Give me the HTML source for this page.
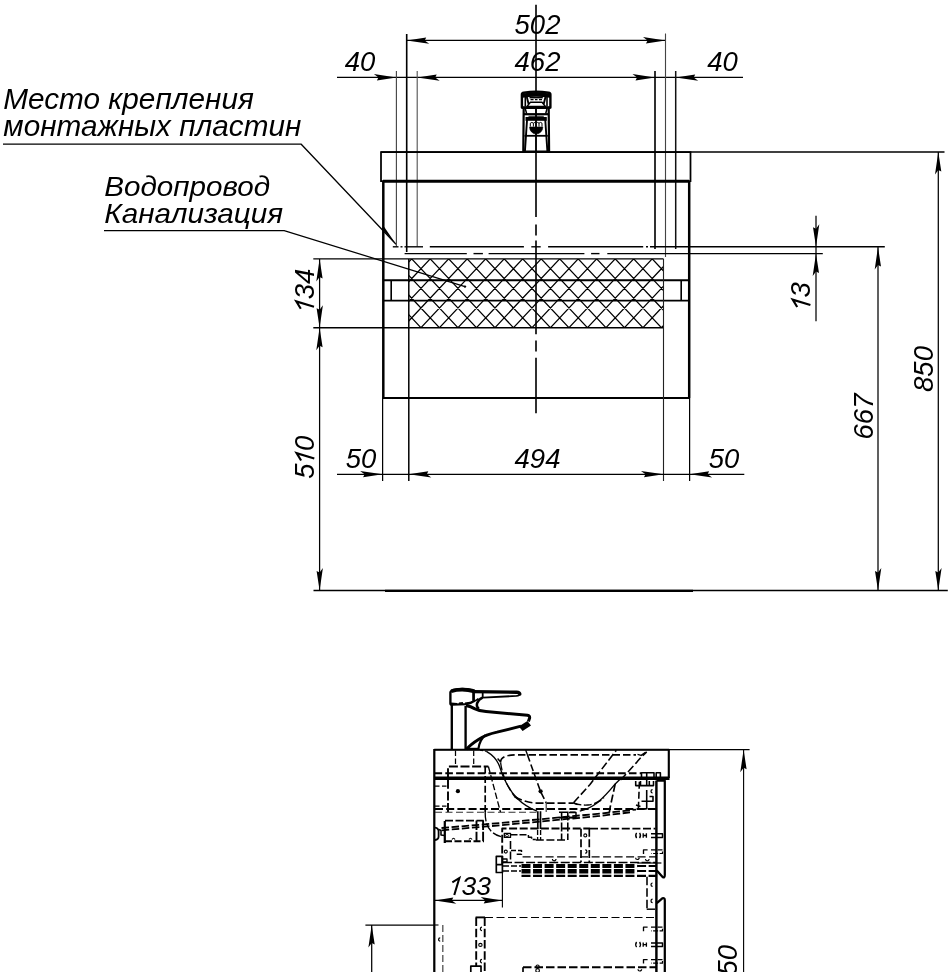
<!DOCTYPE html>
<html><head><meta charset="utf-8"><title>drawing</title>
<style>
html,body{margin:0;padding:0;background:#fff;}
body{width:952px;height:972px;overflow:hidden;font-family:"Liberation Sans",sans-serif;}
svg{display:block;will-change:transform;transform:translateZ(0);font-family:"Liberation Sans",sans-serif;font-style:italic;fill:#000;}
</style></head><body>
<svg width="952" height="972" viewBox="0 0 952 972">
<text x="3.3" y="109.3" font-size="29.5" text-anchor="start" textLength="250.5" lengthAdjust="spacingAndGlyphs" >Место крепления</text>
<text x="3.3" y="136.2" font-size="29.5" text-anchor="start" textLength="298" lengthAdjust="spacingAndGlyphs" >монтажных пластин</text>
<text x="104.2" y="195.5" font-size="27.5" text-anchor="start" textLength="166" lengthAdjust="spacingAndGlyphs" >Водопровод</text>
<text x="104.2" y="223.3" font-size="27.5" text-anchor="start" textLength="179" lengthAdjust="spacingAndGlyphs" >Канализация</text>
<path d="M3,144.2 L301.2,144.2 L396,244.3" stroke="#000" stroke-width="1.25" fill="none" />
<polygon points="396.3,244.6 382.2,229.0 383.9,226.6" fill="#000"/>
<path d="M104,230.6 L284.2,230.6 L465,286.6" stroke="#000" stroke-width="1.25" fill="none" />
<circle cx="465" cy="286.6" r="1.2" fill="#000"/>
<line x1="536" y1="4.8" x2="536" y2="217" stroke="#000" stroke-width="1.625" />
<line x1="536" y1="224.4" x2="536" y2="235.5" stroke="#000" stroke-width="1.625" />
<line x1="536" y1="240.5" x2="536" y2="334.3" stroke="#000" stroke-width="1.625" />
<line x1="536" y1="340.5" x2="536" y2="351.6" stroke="#000" stroke-width="1.625" />
<line x1="536" y1="357.8" x2="536" y2="413.3" stroke="#000" stroke-width="1.625" />
<line x1="406.7" y1="40.4" x2="665.5" y2="40.4" stroke="#000" stroke-width="1.25" />
<polygon points="406.70,40.40 426.20,37.40 424.70,40.40 429.20,43.70" fill="#000"/>
<polygon points="665.50,40.40 646.00,43.40 647.50,40.40 643.00,37.10" fill="#000"/>
<text x="537.5" y="33.8" font-size="27.5" text-anchor="middle" >502</text>
<line x1="337" y1="77.4" x2="743" y2="77.4" stroke="#000" stroke-width="1.25" />
<polygon points="396.40,77.40 376.90,80.40 378.40,77.40 373.90,74.10" fill="#000"/>
<polygon points="417.20,77.40 436.70,74.40 435.20,77.40 439.70,80.70" fill="#000"/>
<polygon points="655.00,77.40 635.50,80.40 637.00,77.40 632.50,74.10" fill="#000"/>
<polygon points="675.70,77.40 695.20,74.40 693.70,77.40 698.20,80.70" fill="#000"/>
<text x="537.5" y="71" font-size="27.5" text-anchor="middle" >462</text>
<text x="360" y="71" font-size="27.5" text-anchor="middle" >40</text>
<text x="722.5" y="71" font-size="27.5" text-anchor="middle" >40</text>
<line x1="406.7" y1="34" x2="406.7" y2="252" stroke="#000" stroke-width="1.625" />
<line x1="396.4" y1="71" x2="396.4" y2="246.5" stroke="#444" stroke-width="1.125" />
<line x1="417.2" y1="71" x2="417.2" y2="246.5" stroke="#555" stroke-width="1.125" />
<line x1="655" y1="71" x2="655" y2="249" stroke="#000" stroke-width="1.625" />
<line x1="665.5" y1="33.5" x2="665.5" y2="257" stroke="#444" stroke-width="1.125" />
<line x1="675.7" y1="71" x2="675.7" y2="249" stroke="#111" stroke-width="1.5" />
<path d="M381,152 L690.5,152 L690.5,181 L381,181 Z" stroke="#000" stroke-width="1.75" fill="none" />
<line x1="381" y1="152" x2="944.5" y2="152" stroke="#000" stroke-width="1.375" />
<line x1="383" y1="181.3" x2="689" y2="181.3" stroke="#000" stroke-width="3.0" />
<line x1="383.3" y1="181" x2="383.3" y2="398" stroke="#000" stroke-width="2.5" />
<line x1="689.2" y1="181" x2="689.2" y2="398" stroke="#000" stroke-width="2.5" />
<line x1="382.4" y1="398" x2="690" y2="398" stroke="#000" stroke-width="2.0" />
<line x1="383" y1="280.2" x2="689" y2="280.2" stroke="#000" stroke-width="1.875" />
<line x1="383" y1="300.6" x2="689" y2="300.6" stroke="#000" stroke-width="1.875" />
<line x1="391.2" y1="280" x2="391.2" y2="300.6" stroke="#000" stroke-width="1.625" />
<line x1="681.2" y1="280" x2="681.2" y2="300.6" stroke="#000" stroke-width="1.625" />
<line x1="392.8" y1="246.8" x2="398.5" y2="246.8" stroke="#000" stroke-width="1.375" />
<line x1="400.5" y1="246.8" x2="402.5" y2="246.8" stroke="#000" stroke-width="1.375" />
<line x1="404.5" y1="246.8" x2="423" y2="246.8" stroke="#000" stroke-width="1.375" />
<line x1="429.8" y1="246.8" x2="523.9" y2="246.8" stroke="#000" stroke-width="1.375" />
<line x1="531.3" y1="246.8" x2="540.7" y2="246.8" stroke="#000" stroke-width="1.375" />
<line x1="548.1" y1="246.8" x2="643.2" y2="246.8" stroke="#000" stroke-width="1.375" />
<line x1="646" y1="246.8" x2="648" y2="246.8" stroke="#000" stroke-width="1.375" />
<line x1="650" y1="246.8" x2="884.8" y2="246.8" stroke="#000" stroke-width="1.375" />
<line x1="404.6" y1="253.6" x2="466.8" y2="253.6" stroke="#000" stroke-width="1.375" />
<line x1="473.5" y1="253.6" x2="482.9" y2="253.6" stroke="#000" stroke-width="1.375" />
<line x1="488.6" y1="253.6" x2="584.4" y2="253.6" stroke="#000" stroke-width="1.375" />
<line x1="591.1" y1="253.6" x2="599.5" y2="253.6" stroke="#000" stroke-width="1.375" />
<line x1="607.3" y1="253.6" x2="822.8" y2="253.6" stroke="#000" stroke-width="1.375" />
<clipPath id="hc"><rect x="408.8" y="258.9" width="254.7" height="68.70000000000005"/></clipPath>
<g clip-path="url(#hc)" stroke="#000" stroke-width="1.3" fill="none">
<path d="M263.70,258.9 L328.40,327.6 M263.70,258.9 L199.00,327.6 M282.20,258.9 L346.90,327.6 M282.20,258.9 L217.50,327.6 M300.70,258.9 L365.40,327.6 M300.70,258.9 L236.00,327.6 M319.20,258.9 L383.90,327.6 M319.20,258.9 L254.50,327.6 M337.70,258.9 L402.40,327.6 M337.70,258.9 L273.00,327.6 M356.20,258.9 L420.90,327.6 M356.20,258.9 L291.50,327.6 M374.70,258.9 L439.40,327.6 M374.70,258.9 L310.00,327.6 M393.20,258.9 L457.90,327.6 M393.20,258.9 L328.50,327.6 M411.70,258.9 L476.40,327.6 M411.70,258.9 L347.00,327.6 M430.20,258.9 L494.90,327.6 M430.20,258.9 L365.50,327.6 M448.70,258.9 L513.40,327.6 M448.70,258.9 L384.00,327.6 M467.20,258.9 L531.90,327.6 M467.20,258.9 L402.50,327.6 M485.70,258.9 L550.40,327.6 M485.70,258.9 L421.00,327.6 M504.20,258.9 L568.90,327.6 M504.20,258.9 L439.50,327.6 M522.70,258.9 L587.40,327.6 M522.70,258.9 L458.00,327.6 M541.20,258.9 L605.90,327.6 M541.20,258.9 L476.50,327.6 M559.70,258.9 L624.40,327.6 M559.70,258.9 L495.00,327.6 M578.20,258.9 L642.90,327.6 M578.20,258.9 L513.50,327.6 M596.70,258.9 L661.40,327.6 M596.70,258.9 L532.00,327.6 M615.20,258.9 L679.90,327.6 M615.20,258.9 L550.50,327.6 M633.70,258.9 L698.40,327.6 M633.70,258.9 L569.00,327.6 M652.20,258.9 L716.90,327.6 M652.20,258.9 L587.50,327.6 M670.70,258.9 L735.40,327.6 M670.70,258.9 L606.00,327.6 M689.20,258.9 L753.90,327.6 M689.20,258.9 L624.50,327.6 M707.70,258.9 L772.40,327.6 M707.70,258.9 L643.00,327.6 M726.20,258.9 L790.90,327.6 M726.20,258.9 L661.50,327.6"/>
</g>
<line x1="313.3" y1="258.9" x2="663.5" y2="258.9" stroke="#000" stroke-width="1.375" />
<line x1="313.3" y1="327.7" x2="663.5" y2="327.7" stroke="#000" stroke-width="1.375" />
<line x1="408.8" y1="258.9" x2="408.8" y2="481" stroke="#000" stroke-width="1.5" />
<line x1="663.5" y1="258.9" x2="663.5" y2="481" stroke="#222" stroke-width="1.125" />
<line x1="382.6" y1="398" x2="382.6" y2="481" stroke="#000" stroke-width="1.25" />
<line x1="689.6" y1="398" x2="689.6" y2="481" stroke="#000" stroke-width="1.25" />
<line x1="337" y1="474.3" x2="744.3" y2="474.3" stroke="#000" stroke-width="1.25" />
<polygon points="382.60,474.30 363.10,477.30 364.60,474.30 360.10,471.00" fill="#000"/>
<polygon points="408.80,474.30 428.30,471.30 426.80,474.30 431.30,477.60" fill="#000"/>
<polygon points="663.50,474.30 644.00,477.30 645.50,474.30 641.00,471.00" fill="#000"/>
<polygon points="689.60,474.30 709.10,471.30 707.60,474.30 712.10,477.60" fill="#000"/>
<text x="361" y="467.7" font-size="27.5" text-anchor="middle" >50</text>
<text x="537.5" y="467.7" font-size="27.5" text-anchor="middle" >494</text>
<text x="724" y="467.7" font-size="27.5" text-anchor="middle" >50</text>
<line x1="319.6" y1="258.9" x2="319.6" y2="590.5" stroke="#000" stroke-width="1.25" />
<polygon points="319.60,258.90 322.60,278.40 319.60,276.90 316.30,281.40" fill="#000"/>
<polygon points="319.60,327.70 316.60,308.20 319.60,309.70 322.90,305.20" fill="#000"/>
<polygon points="319.60,327.70 322.60,347.20 319.60,345.70 316.30,350.20" fill="#000"/>
<polygon points="319.60,590.50 316.60,571.00 319.60,572.50 322.90,568.00" fill="#000"/>
<g transform="translate(314.0 311.8) rotate(-90)"><path d="M5.05,0 L10.35,-17.70 L3.05,-13.20" stroke="#000" stroke-width="2.15" fill="none" stroke-linejoin="miter" stroke-miterlimit="6"/><text x="12.60" y="0" font-size="27.5" text-anchor="start">3</text><text x="27.89" y="0" font-size="27.5" text-anchor="start">4</text></g>
<g transform="translate(314.3 457.2) rotate(-90)"><text x="-21.59" y="0" font-size="27.5" text-anchor="start">5</text><path d="M-1.25,0 L4.05,-17.70 L-3.25,-13.20" stroke="#000" stroke-width="2.15" fill="none" stroke-linejoin="miter" stroke-miterlimit="6"/><text x="6.30" y="0" font-size="27.5" text-anchor="start">0</text></g>
<line x1="313.5" y1="590.5" x2="947.8" y2="590.5" stroke="#000" stroke-width="1.375" />
<line x1="385" y1="590.8" x2="693" y2="590.8" stroke="#000" stroke-width="2.25" />
<line x1="938.3" y1="152" x2="938.3" y2="590.5" stroke="#000" stroke-width="1.25" />
<polygon points="938.30,152.00 941.30,171.50 938.30,170.00 935.00,174.50" fill="#000"/>
<polygon points="938.30,590.50 935.30,571.00 938.30,572.50 941.60,568.00" fill="#000"/>
<text x="933" y="369" font-size="27.5" text-anchor="middle" transform="rotate(-90 933 369)" >850</text>
<line x1="878" y1="247" x2="878" y2="590.5" stroke="#000" stroke-width="1.25" />
<polygon points="878.00,247.00 881.00,266.50 878.00,265.00 874.70,269.50" fill="#000"/>
<polygon points="878.00,590.50 875.00,571.00 878.00,572.50 881.30,568.00" fill="#000"/>
<text x="872.8" y="416.5" font-size="27.5" text-anchor="middle" transform="rotate(-90 872.8 416.5)" >667</text>
<line x1="816" y1="215.8" x2="816" y2="321.3" stroke="#000" stroke-width="1.25" />
<polygon points="816.00,246.80 813.00,227.30 816.00,228.80 819.30,224.30" fill="#000"/>
<polygon points="816.00,253.60 819.00,273.10 816.00,271.60 812.70,276.10" fill="#000"/>
<g transform="translate(810.4 310) rotate(-90)"><path d="M5.05,0 L10.35,-17.70 L3.05,-13.20" stroke="#000" stroke-width="2.15" fill="none" stroke-linejoin="miter" stroke-miterlimit="6"/><text x="12.60" y="0" font-size="27.5" text-anchor="start">3</text></g>
<g stroke="#000" fill="none" stroke-linejoin="round">
<path d="M521.9,107.6 L521.9,94.4 Q521.9,93 523.8,92.7 Q536.1,90.6 548.5,92.7 Q550.4,93 550.4,94.4 L550.4,107.6 Z" fill="#fff" stroke-width="2.4"/>
<path d="M522.5,94.6 Q536.1,91.2 549.8,94.6 L549.8,96.8 Q536.1,94.8 522.5,96.8 Z" fill="#000" stroke-width="1.8"/>
<path d="M525.3,96.5 L525.3,106.5 M547,96.5 L547,106.5" stroke-width="1.6"/>
<path d="M526.8,97 L528.6,104 M545.5,97 L543.7,104" stroke-width="1.9"/>
<path d="M529.5,97.6 L542.8,97.6" stroke-width="1.6"/>
<path d="M530.5,99.6 L533.5,99.6 M535,99.6 L537.5,99.6 M539,99.6 L542,99.6" stroke-width="1.2"/>
<path d="M530.4,102.2 L542,102.2 L545.4,106.4 L527,106.4 Z" stroke-width="1.5"/>
<path d="M521.9,107.7 L550.4,107.7" stroke-width="2.6"/>
<path d="M523.7,108 L523.3,152 M548.7,108 L549.1,152" stroke-width="2.2"/>
<path d="M523.5,114.2 L549,114.2" stroke-width="2.2"/>
<path d="M525.2,108.5 L526.6,113.5 M547.1,108.5 L545.7,113.5" stroke-width="1.5"/>
<path d="M528.5,116.3 L543.8,116.3" stroke-width="0.9"/>
<path d="M525.5,118.9 L546.8,118.9" stroke-width="3.8"/>
<path d="M527.2,117.5 L524.9,151.5 M545.1,117.5 L547.4,151.5" stroke-width="1.9"/>
<path d="M524.5,135.8 L547.8,135.8" stroke-width="1.8"/>
<path d="M530.3,126.6 L530.3,123.2 Q531.9,121.6 533.4,123.2 L533.4,126.6 M533.4,123.2 Q535,121.6 536.2,123.2 Q537.6,121.6 539,123.2 L539,126.6 M539,123.2 Q540.6,121.6 542,123.2 L542,126.6" stroke-width="1.0"/>
<path d="M529.6,127 A6.6,7 0 0 0 542.8,127 Z" fill="#000" stroke-width="0.6"/>
<path d="M523,151.3 L549.4,151.3" stroke-width="1.6"/>
</g>
<line x1="536" y1="108" x2="536" y2="152" stroke="#000" stroke-width="1.375" />
<path d="M451.8,704.5 L451.8,749.8 M465.6,706 L465.6,749.8" stroke="#000" stroke-width="2.35" fill="none" stroke-linecap="butt" stroke-linejoin="round"/>
<path d="M450.4,703.5 L450.4,692.6 Q450.4,690.8 453,690 Q463,687.8 472,690 Q474,690.6 475.5,691.6 L473.6,692.8 L473.6,701.2 Q470,703.6 466.5,704.2 L452,704.6 Q450.4,704.6 450.4,703.5 Z" stroke="#000" stroke-width="2.35" fill="none" stroke-linecap="butt" stroke-linejoin="round"/>
<path d="M451.2,691.2 Q462,688 474.5,691.4" stroke="#000" stroke-width="3.58" fill="none" stroke-linecap="butt" stroke-linejoin="round"/>
<path d="M451,703.6 L457,703.9 M459,703.6 L463,703.0 M465,703.4 L470,702.8" stroke="#000" stroke-width="2.02" fill="none" stroke-linecap="butt" stroke-linejoin="round"/>
<path d="M473.6,691.6 L516.5,692.2 Q519.6,692.5 519.8,694" stroke="#000" stroke-width="3.36" fill="none" stroke-linecap="round" stroke-linejoin="round"/>
<path d="M519.8,694 Q519.6,695.6 516.5,695.9 L482.8,697.6" stroke="#000" stroke-width="1.9" fill="none" stroke-linecap="round" stroke-linejoin="round"/>
<path d="M482.7,693 L482.7,697.4" stroke="#000" stroke-width="1.79" fill="none" stroke-linecap="butt" stroke-linejoin="round"/>
<path d="M473.6,692 L473.6,701" stroke="#000" stroke-width="2.24" fill="none" stroke-linecap="butt" stroke-linejoin="round"/>
<path d="M482.6,697.6 Q478.5,699.2 477,703.5 Q476.2,706.5 478.8,708.8" stroke="#000" stroke-width="2.46" fill="none" stroke-linecap="butt" stroke-linejoin="round"/>
<path d="M473.8,701.5 Q476.5,700.2 478.5,698.6" stroke="#000" stroke-width="1.79" fill="none" stroke-linecap="butt" stroke-linejoin="round"/>
<path d="M466,705.5 Q471,706.5 474.5,708.6 Q479,711 486,711.6 L527.5,715.2 Q530,715.6 529.6,718 L528.4,721.6" stroke="#000" stroke-width="3.02" fill="none" stroke-linecap="butt" stroke-linejoin="round"/>
<polygon points="518.8,726.4 527.4,721.0 531,725.4 522.6,731" fill="#000"/>
<path d="M521,726.2 L497,732.2 Q486,734.6 478.5,739.5 Q470.5,744.5 466.5,749.3" stroke="#000" stroke-width="2.91" fill="none" stroke-linecap="butt" stroke-linejoin="round"/>
<path d="M485.5,735.2 Q479.6,739.5 478.3,749.3" stroke="#000" stroke-width="2.24" fill="none" stroke-linecap="butt" stroke-linejoin="round"/>
<path d="M466,748.8 L478.6,748.8" stroke="#000" stroke-width="2.02" fill="none" stroke-linecap="butt" stroke-linejoin="round"/>
<path d="M434.2,749.8 L668.8,749.8 L668.8,778" stroke="#000" stroke-width="2.13" fill="none" stroke-linecap="butt" stroke-linejoin="round"/>
<line x1="434" y1="749.7" x2="749.6" y2="749.7" stroke="#000" stroke-width="1.25" />
<path d="M434.3,749 L434.3,972" stroke="#000" stroke-width="2.24" fill="none" stroke-linecap="butt" stroke-linejoin="round"/>
<path d="M434,778.2 L669.5,778.2" stroke="#000" stroke-width="3.36" fill="none" stroke-linecap="butt" stroke-linejoin="round"/>
<path d="M656.4,780.6 L656.4,972" stroke="#000" stroke-width="2.46" fill="none" stroke-linecap="butt" stroke-linejoin="round"/>
<path d="M656.4,780.7 L664.8,780.7 L664.8,875 Q664.8,878.3 662.6,877 L656.8,870.4" stroke="#000" stroke-width="2.24" fill="none" stroke-linecap="butt" stroke-linejoin="round"/>
<path d="M656.8,903.2 L662.3,898.4 Q664.8,897.6 664.8,900.2 L664.8,972" stroke="#000" stroke-width="2.24" fill="none" stroke-linecap="butt" stroke-linejoin="round"/>
<line x1="743.6" y1="749.7" x2="743.6" y2="972" stroke="#000" stroke-width="1.125" />
<polygon points="743.60,749.70 746.60,769.20 743.60,767.70 740.30,772.20" fill="#000"/>
<text x="737.1" y="967.8" font-size="27.5" text-anchor="middle" transform="rotate(-90 737.1 967.8)" >850</text>
<line x1="434.3" y1="900.4" x2="502.4" y2="900.4" stroke="#000" stroke-width="1.25" />
<polygon points="434.80,900.40 453.30,897.40 451.80,900.40 456.30,903.70" fill="#000"/>
<polygon points="502.20,900.40 483.70,903.40 485.20,900.40 480.70,897.10" fill="#000"/>
<line x1="502.4" y1="873" x2="502.4" y2="907.5" stroke="#000" stroke-width="1.125" />
<g transform="translate(449.4 895)"><path d="M4.87,0 L9.97,-17.06 L2.94,-12.72" stroke="#000" stroke-width="2.07" fill="none" stroke-linejoin="miter" stroke-miterlimit="6"/><text x="12.14" y="0" font-size="26.5" text-anchor="start">3</text><text x="26.88" y="0" font-size="26.5" text-anchor="start">3</text></g>
<line x1="365.4" y1="925" x2="434" y2="925" stroke="#000" stroke-width="1.25" />
<line x1="371.7" y1="925" x2="371.7" y2="972" stroke="#000" stroke-width="1.25" />
<polygon points="371.70,925.00 374.70,944.50 371.70,943.00 368.40,947.50" fill="#000"/>
<path d="M455.5,750.5 L455.5,766.5 M473.7,750.5 L473.7,766.5" stroke="#000" stroke-width="1.23" fill="none" stroke-linecap="butt" stroke-linejoin="round" stroke-dasharray="5.5,2.5"/>
<path d="M448,812 L448,766.5 L488.4,766.5" stroke="#000" stroke-width="1.9" fill="none" stroke-linecap="butt" stroke-linejoin="round" stroke-dasharray="9,2.6"/>
<path d="M485.2,766.5 L485.2,812" stroke="#000" stroke-width="1.68" fill="none" stroke-linecap="butt" stroke-linejoin="round" stroke-dasharray="7,2.6"/>
<path d="M485.2,812 Q485,826 492,832 Q496,835.5 501,836.6" stroke="#000" stroke-width="1.34" fill="none" stroke-linecap="butt" stroke-linejoin="round" stroke-dasharray="9,2.5"/>
<path d="M434.5,773.2 L641,773.2" stroke="#000" stroke-width="1.9" fill="none" stroke-linecap="butt" stroke-linejoin="round" stroke-dasharray="7.6,3.2"/>
<path d="M435,786.2 L448,786.2" stroke="#000" stroke-width="1.23" fill="none" stroke-linecap="butt" stroke-linejoin="round" stroke-dasharray="4.5,2.5"/>
<path d="M435,806.1 L448,806.1" stroke="#000" stroke-width="1.23" fill="none" stroke-linecap="butt" stroke-linejoin="round" stroke-dasharray="4.5,2.5"/>
<circle cx="457.9" cy="791.2" r="2.1" fill="#000"/>
<circle cx="540.6" cy="791.3" r="2.1" fill="#000"/>
<path d="M435,808.9 L656,808.9" stroke="#000" stroke-width="2.02" fill="none" stroke-linecap="butt" stroke-linejoin="round" stroke-dasharray="8,3.2"/>
<path d="M435,812.3 L537,812.3" stroke="#333" stroke-width="1.12" fill="none" stroke-linecap="butt" stroke-linejoin="round" stroke-dasharray="7,3.5"/>
<path d="M488.4,766.5 L500.5,812.2" stroke="#000" stroke-width="1.34" fill="none" stroke-linecap="butt" stroke-linejoin="round" stroke-dasharray="6.5,2.5"/>
<path d="M486.8,751.6 Q496,757 499.4,766 Q502.5,776 506.8,784 Q511,792 517,798.2 Q525,806.2 537,811.2" stroke="#000" stroke-width="1.34" fill="none" stroke-linecap="butt" stroke-linejoin="round"/>
<path d="M480,750.2 Q483.5,750.4 486.8,751.6" stroke="#000" stroke-width="1.23" fill="none" stroke-linecap="butt" stroke-linejoin="round" stroke-dasharray="3,2"/>
<path d="M500.5,762.5 Q500.5,757.5 507,755.8 Q511,754.8 517,754.8 L636,754.8" stroke="#000" stroke-width="1.68" fill="none" stroke-linecap="butt" stroke-linejoin="round" stroke-dasharray="7.5,3"/>
<path d="M497.6,758.6 L500.2,761.6" stroke="#000" stroke-width="1.46" fill="none" stroke-linecap="butt" stroke-linejoin="round"/>
<path d="M444.8,843 L444.8,821" stroke="#000" stroke-width="2.24" fill="none" stroke-linecap="butt" stroke-linejoin="round"/>
<path d="M445,820.6 L483.7,820.6" stroke="#000" stroke-width="1.9" fill="none" stroke-linecap="butt" stroke-linejoin="round" stroke-dasharray="8,2.5"/>
<path d="M476.5,820.4 L476.5,842 M483.1,820.4 L483.1,842" stroke="#000" stroke-width="1.9" fill="none" stroke-linecap="butt" stroke-linejoin="round" stroke-dasharray="9.5,1.8"/>
<path d="M445,841.2 L484,841.2" stroke="#000" stroke-width="2.02" fill="none" stroke-linecap="butt" stroke-linejoin="round" stroke-dasharray="7,2.5"/>
<path d="M452,839.5 q1.5,-2.5 3,0 M469,839.5 q1.5,-2.5 3,0" stroke="#000" stroke-width="1.23" fill="none" stroke-linecap="butt" stroke-linejoin="round"/>
<path d="M435,827.6 Q438.6,828 438.6,831.5 L438.6,836.5 Q438.6,839.6 435,840" stroke="#000" stroke-width="1.79" fill="none" stroke-linecap="butt" stroke-linejoin="round"/>
<path d="M439,829.5 L441,830.5 L441,835 L444.5,835.6" stroke="#000" stroke-width="1.57" fill="none" stroke-linecap="butt" stroke-linejoin="round"/>
<path d="M441.5,828 L500,823 L600,813.6 L636,809.6" stroke="#000" stroke-width="1.79" fill="none" stroke-linecap="butt" stroke-linejoin="round" stroke-dasharray="7.5,2.6"/>
<path d="M441.7,830.3 L500,825.3 L600,815.9 L630,812.4" stroke="#000" stroke-width="1.79" fill="none" stroke-linecap="butt" stroke-linejoin="round" stroke-dasharray="7.5,2.6"/>
<path d="M525.7,750 L527.5,755" stroke="#000" stroke-width="1.34" fill="none" stroke-linecap="butt" stroke-linejoin="round"/>
<path d="M527.5,755 L540.4,791.2 L546.2,802.8" stroke="#000" stroke-width="1.57" fill="none" stroke-linecap="butt" stroke-linejoin="round" stroke-dasharray="7,3"/>
<path d="M546.2,803 L546.2,812" stroke="#333" stroke-width="1.12" fill="none" stroke-linecap="butt" stroke-linejoin="round"/>
<path d="M500.6,762.5 Q503,781 514.7,796.5" stroke="#000" stroke-width="1.34" fill="none" stroke-linecap="butt" stroke-linejoin="round" stroke-dasharray="8,3"/>
<path d="M514.7,796.5 Q524,802.4 536.8,803.1 L573.5,803.1" stroke="#000" stroke-width="1.57" fill="none" stroke-linecap="butt" stroke-linejoin="round" stroke-dasharray="8,3"/>
<path d="M573.5,803.1 Q581,805.6 588,805 Q594,804.4 600.5,800.5 L604,797.5" stroke="#000" stroke-width="1.46" fill="none" stroke-linecap="butt" stroke-linejoin="round" stroke-dasharray="8,2.5"/>
<path d="M514.5,796.3 L518,799" stroke="#000" stroke-width="1.79" fill="none" stroke-linecap="butt" stroke-linejoin="round"/>
<path d="M579.8,811.2 Q590,808.5 597,803 Q606,795.4 615.2,783.9 L620.5,778.8" stroke="#000" stroke-width="1.34" fill="none" stroke-linecap="butt" stroke-linejoin="round"/>
<path d="M573.5,802.8 L590,784.4 L616.3,750.3" stroke="#000" stroke-width="1.57" fill="none" stroke-linecap="butt" stroke-linejoin="round" stroke-dasharray="8,3"/>
<path d="M573.5,802.8 L577.5,804.6" stroke="#000" stroke-width="1.57" fill="none" stroke-linecap="butt" stroke-linejoin="round"/>
<path d="M620.5,780 L624.7,775.5 L636.2,762.9 Q641,757 646.7,751.8" stroke="#000" stroke-width="1.57" fill="none" stroke-linecap="butt" stroke-linejoin="round" stroke-dasharray="8,3"/>
<path d="M537.8,811.2 L537.8,829 M540.5,811.2 L540.5,829" stroke="#000" stroke-width="1.68" fill="none" stroke-linecap="butt" stroke-linejoin="round"/>
<path d="M559,812.3 L575.5,812.3 M559,817.6 L575.5,817.6 M561.6,811.5 L561.6,840 M567.8,811.5 L567.8,840" stroke="#000" stroke-width="1.57" fill="none" stroke-linecap="butt" stroke-linejoin="round" stroke-dasharray="9,2"/>
<path d="M569,812.5 L576,812.5 L576,817.5 L569,817.5" stroke="#000" stroke-width="1.46" fill="none" stroke-linecap="butt" stroke-linejoin="round"/>
<path d="M502.2,864 L502.2,828.5 L590,828.5" stroke="#000" stroke-width="1.9" fill="none" stroke-linecap="butt" stroke-linejoin="round" stroke-dasharray="8,2.6"/>
<path d="M504.3,833.3 L510.5,833.3 L510.5,837.4 L504.3,837.4 Z" stroke="#000" stroke-width="1.34" fill="none" stroke-linecap="butt" stroke-linejoin="round"/>
<circle cx="507" cy="835.6" r="1.4" fill="none" stroke="#000" stroke-width="1"/>
<path d="M510.5,834.8 L528.4,834.8 L528.4,837.2 L531.6,837.2 L531.6,839.6 L535.8,839.6" stroke="#000" stroke-width="1.46" fill="none" stroke-linecap="butt" stroke-linejoin="round" stroke-dasharray="7,2"/>
<path d="M535.8,840 L567.5,840" stroke="#000" stroke-width="1.68" fill="none" stroke-linecap="butt" stroke-linejoin="round" stroke-dasharray="8,2.6"/>
<path d="M537.6,830 L537.6,840 M540.6,830 L540.6,840" stroke="#000" stroke-width="1.34" fill="none" stroke-linecap="butt" stroke-linejoin="round" stroke-dasharray="5,2"/>
<path d="M581,828.7 L581,862 M589.3,828.7 L589.3,862" stroke="#000" stroke-width="1.68" fill="none" stroke-linecap="butt" stroke-linejoin="round" stroke-dasharray="8,2.6"/>
<circle cx="585.3" cy="835.4" r="1.5" fill="none" stroke="#000" stroke-width="1.1"/>
<path d="M637.5,754.4 L641.2,755.4 L645.5,752.4" stroke="#000" stroke-width="1.46" fill="none" stroke-linecap="butt" stroke-linejoin="round"/>
<path d="M615.2,783.9 L610,808 L609.4,812.4" stroke="#000" stroke-width="1.68" fill="none" stroke-linecap="butt" stroke-linejoin="round" stroke-dasharray="8,3"/>
<path d="M639.4,781.8 L638.4,808.5" stroke="#000" stroke-width="1.57" fill="none" stroke-linecap="butt" stroke-linejoin="round" stroke-dasharray="7,3"/>
<path d="M636,805 L640.5,806.5" stroke="#000" stroke-width="1.46" fill="none" stroke-linecap="butt" stroke-linejoin="round"/>
<path d="M641.5,777.6 L641.5,772.8 L654,772.8 L654,777.6 M656.2,777.6 L656.2,772.8 L660.4,772.8 L660.4,777.6" stroke="#000" stroke-width="1.57" fill="none" stroke-linecap="butt" stroke-linejoin="round"/>
<path d="M646.7,772.8 L646.7,786" stroke="#000" stroke-width="1.57" fill="none" stroke-linecap="butt" stroke-linejoin="round"/>
<path d="M635.7,781 L635.7,785.6 L653.5,785.6 L653.5,781 M640.5,781 L640.5,785.4 M649.3,781 L649.3,785.4" stroke="#000" stroke-width="1.57" fill="none" stroke-linecap="butt" stroke-linejoin="round"/>
<path d="M652.6,789.6 a1.6,1.7 0 1 0 0,3.4" stroke="#000" stroke-width="1.23" fill="none" stroke-linecap="butt" stroke-linejoin="round"/>
<path d="M646.7,790 L646.7,809 M641.5,801.2 L653,801.2 L653,796.5 L649.5,796.5 M646.7,808.9 L642,808.9" stroke="#000" stroke-width="1.57" fill="none" stroke-linecap="butt" stroke-linejoin="round"/>
<path d="M648.5,808.9 L656,808.9" stroke="#000" stroke-width="1.46" fill="none" stroke-linecap="butt" stroke-linejoin="round" stroke-dasharray="3.5,2.5"/>
<path d="M590,828.7 L655.5,828.7" stroke="#000" stroke-width="1.68" fill="none" stroke-linecap="butt" stroke-linejoin="round" stroke-dasharray="8,2.6"/>
<path d="M636.6,832.9 q-1.8,2.6 0,5.2 M639.6,832.9 q1.8,2.6 0,5.2" stroke="#000" stroke-width="1.34" fill="none" stroke-linecap="butt" stroke-linejoin="round"/>
<path d="M643.2,833.3 L643.2,837.7 M646.4,833.3 L646.4,837.7 M643.2,835.5 L646.4,835.5" stroke="#000" stroke-width="1.34" fill="none" stroke-linecap="butt" stroke-linejoin="round"/>
<path d="M651,833.8 L662.5,833.8 L662.5,837.4 L651,837.4" stroke="#000" stroke-width="1.46" fill="none" stroke-linecap="butt" stroke-linejoin="round"/>
<path d="M510.5,841 L510.5,862" stroke="#000" stroke-width="1.57" fill="none" stroke-linecap="butt" stroke-linejoin="round" stroke-dasharray="8,2.6"/>
<circle cx="505.8" cy="851.6" r="1.5" fill="none" stroke="#000" stroke-width="1.1"/>
<path d="M511,850.5 L521.5,850.5 L521.5,854.2 L516,854.2" stroke="#000" stroke-width="1.46" fill="none" stroke-linecap="butt" stroke-linejoin="round" stroke-dasharray="5,2"/>
<path d="M522.6,856.8 L656,856.8" stroke="#000" stroke-width="1.23" fill="none" stroke-linecap="butt" stroke-linejoin="round" stroke-dasharray="8,3.5"/>
<path d="M552.4,859 a1.8,1.8 0 0 0 3.6,0 M645.5,859 a1.8,1.8 0 0 0 3.6,0" stroke="#000" stroke-width="1.23" fill="none" stroke-linecap="butt" stroke-linejoin="round"/>
<path d="M585.2,849.8 a1.7,1.7 0 1 1 0,3.4" stroke="#000" stroke-width="1.23" fill="none" stroke-linecap="butt" stroke-linejoin="round"/>
<path d="M496.3,856.3 L502.4,856.3 L502.4,872.5 L496.3,872.5 Z M496.3,864.6 L502.4,864.6" stroke="#000" stroke-width="1.68" fill="none" stroke-linecap="butt" stroke-linejoin="round"/>
<path d="M503,859 L507,859 L507,862 L503,862" stroke="#000" stroke-width="1.34" fill="none" stroke-linecap="butt" stroke-linejoin="round"/>
<path d="M503,862.5 L656,862.5" stroke="#000" stroke-width="1.46" fill="none" stroke-linecap="butt" stroke-linejoin="round" stroke-dasharray="9,2.55"/>
<path d="M521.5,866 L637.1,866" stroke="#000" stroke-width="3.81" fill="none" stroke-linecap="butt" stroke-linejoin="round" stroke-dasharray="9,2.55"/>
<path d="M637.1,866 L656,866" stroke="#000" stroke-width="1.9" fill="none" stroke-linecap="butt" stroke-linejoin="round" stroke-dasharray="9,2.55"/>
<path d="M521.5,871.2 L637.1,871.2" stroke="#000" stroke-width="4.37" fill="none" stroke-linecap="butt" stroke-linejoin="round" stroke-dasharray="9,2.55"/>
<path d="M637.1,871 L656,871" stroke="#000" stroke-width="2.24" fill="none" stroke-linecap="butt" stroke-linejoin="round" stroke-dasharray="9,2.55"/>
<path d="M521.5,875.9 L656,875.9" stroke="#000" stroke-width="2.24" fill="none" stroke-linecap="butt" stroke-linejoin="round" stroke-dasharray="9,2.55"/>
<path d="M503,866 L521,866 M503,871 L521,871" stroke="#000" stroke-width="1.68" fill="none" stroke-linecap="butt" stroke-linejoin="round" stroke-dasharray="6,2"/>
<path d="M485,917.5 L656,917.5" stroke="#000" stroke-width="1.23" fill="none" stroke-linecap="butt" stroke-linejoin="round" stroke-dasharray="8,3.5"/>
<path d="M643.5,853.9 L643.5,849.9 L647.6,849.9" stroke="#000" stroke-width="1.34" fill="none" stroke-linecap="butt" stroke-linejoin="round"/>
<path d="M651,849.9 L662.5,849.9 L662.5,853.5 L651,853.5" stroke="#000" stroke-width="1.23" fill="none" stroke-linecap="butt" stroke-linejoin="round" stroke-dasharray="5,1.5"/>
<path d="M637.3,863 L661.4,863" stroke="#000" stroke-width="1.23" fill="none" stroke-linecap="butt" stroke-linejoin="round"/>
<path d="M635.6,857.7 a1.8,1.8 0 0 0 3.6,0" stroke="#000" stroke-width="1.23" fill="none" stroke-linecap="butt" stroke-linejoin="round"/>
<path d="M647,876.7 L647,909.3" stroke="#000" stroke-width="1.57" fill="none" stroke-linecap="butt" stroke-linejoin="round" stroke-dasharray="8.5,3"/>
<path d="M652.6,883 a1.6,1.7 0 1 0 0,3.4 M652.6,899.2 a1.6,1.7 0 1 0 0,3.4" stroke="#000" stroke-width="1.23" fill="none" stroke-linecap="butt" stroke-linejoin="round"/>
<path d="M646.7,909.2 L655,909.2" stroke="#000" stroke-width="1.46" fill="none" stroke-linecap="butt" stroke-linejoin="round"/>
<path d="M643.5,931.1999999999999 L643.5,927.1999999999999 L647.6,927.1999999999999" stroke="#000" stroke-width="1.34" fill="none" stroke-linecap="butt" stroke-linejoin="round"/>
<path d="M651,927.1999999999999 L662.5,927.1999999999999 L662.5,930.8 L651,930.8" stroke="#000" stroke-width="1.23" fill="none" stroke-linecap="butt" stroke-linejoin="round" stroke-dasharray="5,1.5"/>
<path d="M636.6,942.0 q-1.8,2.6 0,5.2 M639.6,942.0 q1.8,2.6 0,5.2" stroke="#000" stroke-width="1.34" fill="none" stroke-linecap="butt" stroke-linejoin="round"/>
<path d="M643.2,942.4 L643.2,946.8000000000001 M646.4,942.4 L646.4,946.8000000000001 M643.2,944.6 L646.4,944.6" stroke="#000" stroke-width="1.34" fill="none" stroke-linecap="butt" stroke-linejoin="round"/>
<path d="M651,942.9 L662.5,942.9 L662.5,946.5 L651,946.5" stroke="#000" stroke-width="1.46" fill="none" stroke-linecap="butt" stroke-linejoin="round"/>
<path d="M643.5,963.6 L643.5,959.6 L647.6,959.6" stroke="#000" stroke-width="1.34" fill="none" stroke-linecap="butt" stroke-linejoin="round"/>
<path d="M651,959.6 L662.5,959.6 L662.5,963.2 L651,963.2" stroke="#000" stroke-width="1.23" fill="none" stroke-linecap="butt" stroke-linejoin="round" stroke-dasharray="5,1.5"/>
<path d="M475.6,917.4 L485,917.4" stroke="#000" stroke-width="1.9" fill="none" stroke-linecap="butt" stroke-linejoin="round"/>
<path d="M476.2,917.4 L476.2,966 M484.7,917.4 L484.7,972" stroke="#000" stroke-width="1.9" fill="none" stroke-linecap="butt" stroke-linejoin="round" stroke-dasharray="8.5,2.8"/>
<path d="M482,927.2 a1.6,1.7 0 1 0 0,3.4 M482,959.4 a1.6,1.7 0 1 0 0,3.4" stroke="#000" stroke-width="1.23" fill="none" stroke-linecap="butt" stroke-linejoin="round"/>
<ellipse cx="480.4" cy="944.9" rx="1.7" ry="1.5" fill="none" stroke="#000" stroke-width="1.1"/>
<path d="M470.8,972 L470.8,966.2 L481,966.2 L481,972" stroke="#000" stroke-width="1.68" fill="none" stroke-linecap="butt" stroke-linejoin="round"/>
<path d="M442.8,925 L442.8,972" stroke="#555" stroke-width="1.34" fill="none" stroke-linecap="butt" stroke-linejoin="round" stroke-dasharray="7,3"/>
<path d="M440.2,937.8 a1.6,1.7 0 1 0 0,3.4" stroke="#000" stroke-width="1.23" fill="none" stroke-linecap="butt" stroke-linejoin="round"/>
<path d="M434,925 L438.5,925" stroke="#000" stroke-width="1.12" fill="none" stroke-linecap="butt" stroke-linejoin="round"/>
<path d="M523,967.3 L656,967.3" stroke="#000" stroke-width="2.02" fill="none" stroke-linecap="butt" stroke-linejoin="round" stroke-dasharray="8.5,3"/>
<path d="M523,967.3 L523,972" stroke="#000" stroke-width="1.68" fill="none" stroke-linecap="butt" stroke-linejoin="round"/>
<circle cx="537.6" cy="966.6" r="1.6" fill="none" stroke="#000" stroke-width="1.1"/>
<circle cx="537.6" cy="970.4" r="1.8" fill="none" stroke="#000" stroke-width="1.1"/>
<path d="M638,969.2 a1.8,1.8 0 0 0 3.6,0" stroke="#000" stroke-width="1.23" fill="none" stroke-linecap="butt" stroke-linejoin="round"/>
</svg>
</body></html>
